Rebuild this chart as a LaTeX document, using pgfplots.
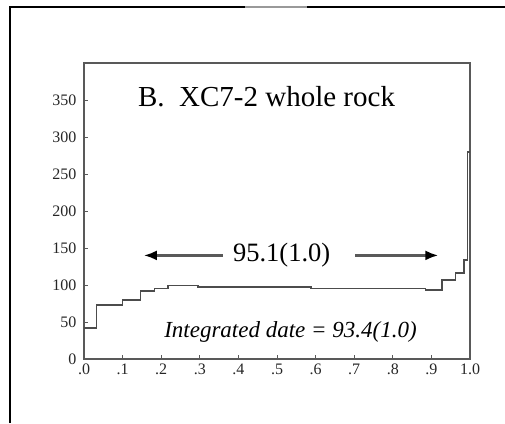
\documentclass[border=0pt]{standalone}
\usepackage{pgfplots}
\pgfplotsset{compat=1.18}
\usepackage{fontspec}
\setmainfont{Liberation Serif}
\usetikzlibrary{arrows.meta}
\begin{document}
\begin{tikzpicture}
\useasboundingbox (0pt,0pt) rectangle (505pt,-423pt);
% outer frame fragments
\draw[black,line width=2pt] (10pt,-423pt) -- (10pt,-7pt) -- (505pt,-7pt);
\draw[gray!80,line width=2.5pt] (245pt,-7pt) -- (307pt,-7pt);
\begin{axis}[
  at={(84pt,-359pt)}, anchor=origin,
  scale only axis, width=386pt, height=296pt,
  xmin=0, xmax=1, ymin=0, ymax=400,
  xtick={0,0.1,0.2,0.3,0.4,0.5,0.6,0.7,0.8,0.9,1.0},
  xticklabels={.0,.1,.2,.3,.4,.5,.6,.7,.8,.9,1.0},
  ytick={0,50,100,150,200,250,300,350},
  xtick pos=left, ytick pos=left,
  tick align=inside, major tick length=4pt,
  tick style={gray!70!black, line width=0.8pt},
  axis line style={gray!70!black, line width=1.6pt},
  /pgf/number format/assume math mode=true,
  tick label style={font=\fontsize{16}{16}\selectfont, text=black!85},
  yticklabel style={xshift=-4pt},
  xticklabel style={yshift=-1pt},
  clip=false,
]
\addplot[const plot, line width=1.5pt, color=gray!60!black] coordinates {
(0,42) (0.033,73) (0.100,80) (0.147,92) (0.183,95) (0.218,99)
(0.295,97) (0.588,95) (0.885,93) (0.928,107) (0.963,116)
(0.984,134) (0.994,280) (1.0,280)
};
\node[font=\fontsize{29}{29}\selectfont] at (axis cs:0.473,354) {B.\ \ XC7-2 whole rock};
\node[font=\fontsize{26.5}{26.5}\selectfont] at (axis cs:0.512,140) {95.1(1.0)};
\draw[gray!70!black, line width=2.5pt, -{Latex[length=13pt,width=10pt,black]}] (axis cs:0.36,140) -- (axis cs:0.155,140);
\draw[gray!70!black, line width=2.5pt, -{Latex[length=13pt,width=10pt,black]}] (axis cs:0.703,140) -- (axis cs:0.918,140);
\node[font=\fontsize{23}{23}\selectfont\itshape] at (axis cs:0.535,37) {Integrated date = 93.4(1.0)};
\end{axis}
\end{tikzpicture}
\end{document}
